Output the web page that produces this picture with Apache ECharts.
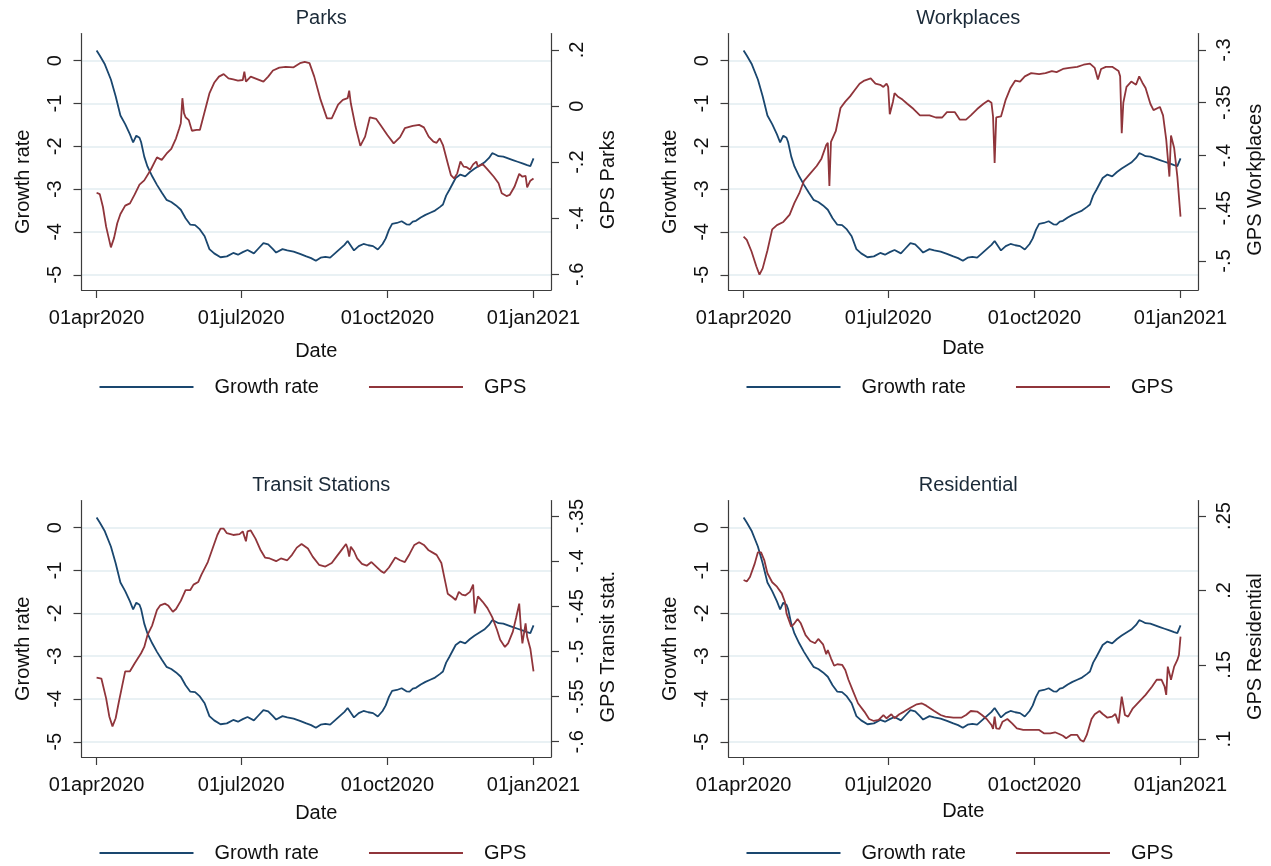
<!DOCTYPE html>
<html lang="en">
<head>
<meta charset="UTF-8">
<title>Growth rate and GPS mobility</title>
<script src="https://cdn.jsdelivr.net/npm/echarts@6/dist/echarts.min.js"></script>
<style>
  html, body { margin: 0; padding: 0; background: #fff; }
  #main { width: 1271px; height: 866px; }
</style>
</head>
<body>
<div id="main"></div>
<script>
// x values are days since 01apr2020
var tickDays = [0, 91, 183, 275];
var tickLabels = ['01apr2020', '01jul2020', '01oct2020', '01jan2021'];
var growthTicks = [-5, -4, -3, -2, -1, 0];

// growth rate (same line in every panel)
var growth = [
  [0, 0.24], [2, 0.12], [5, -0.07], [9, -0.44], [12, -0.83], [15, -1.28], [18, -1.48], [21, -1.72],
  [23, -1.91], [25, -1.75], [27, -1.80], [28, -1.90], [30, -2.24], [32, -2.47], [35, -2.70], [38, -2.90],
  [41, -3.08], [44, -3.25], [47, -3.30], [50, -3.38], [53, -3.48], [56, -3.68], [59, -3.83], [62, -3.84],
  [65, -3.94], [68, -4.10], [71, -4.40], [74, -4.50], [78, -4.59], [82, -4.57], [86, -4.49], [89, -4.53],
  [92, -4.47], [95, -4.42], [99, -4.50], [102, -4.38], [105, -4.26], [108, -4.29], [111, -4.40], [113, -4.48],
  [117, -4.40], [120, -4.43], [124, -4.46], [128, -4.51], [132, -4.57], [135, -4.61], [138, -4.67], [141, -4.60],
  [144, -4.58], [147, -4.60], [150, -4.50], [153, -4.40], [156, -4.30], [158, -4.21], [160, -4.32], [162, -4.43],
  [165, -4.33], [168, -4.28], [171, -4.31], [174, -4.33], [177, -4.41], [180, -4.28], [182, -4.15], [184, -3.95],
  [186, -3.81], [189, -3.79], [192, -3.75], [195, -3.82], [197, -3.83], [199, -3.76], [201, -3.74], [204, -3.66],
  [207, -3.60], [210, -3.55], [213, -3.50], [216, -3.42], [218, -3.36], [220, -3.15], [222, -3.02], [224, -2.88],
  [226, -2.74], [229, -2.66], [232, -2.70], [235, -2.60], [238, -2.52], [241, -2.45], [244, -2.38], [247, -2.27],
  [249, -2.16], [251, -2.19], [253, -2.23], [256, -2.24], [259, -2.28], [262, -2.32], [265, -2.36], [268, -2.40],
  [271, -2.44], [273, -2.46], [275, -2.28]
];

var parksGps = [
  [0, -0.309], [2, -0.314], [4, -0.36], [6, -0.43], [9, -0.504], [11, -0.47], [13, -0.418], [15, -0.385],
  [18, -0.355], [21, -0.347], [24, -0.315], [27, -0.28], [30, -0.265], [34, -0.228], [38, -0.183], [41, -0.192],
  [44, -0.170], [47, -0.153], [50, -0.115], [52, -0.08], [53, -0.061], [54, 0.028], [55, -0.025], [56, -0.040],
  [58, -0.050], [60, -0.088], [63, -0.085], [65, -0.085], [68, -0.020], [71, 0.045], [74, 0.083], [77, 0.105],
  [80, 0.114], [83, 0.099], [86, 0.095], [89, 0.091], [92, 0.093], [93, 0.123], [94, 0.087], [97, 0.105],
  [101, 0.096], [105, 0.087], [108, 0.105], [111, 0.127], [115, 0.137], [119, 0.140], [124, 0.138], [128, 0.153],
  [131, 0.158], [134, 0.153], [137, 0.105], [141, 0.022], [145, -0.044], [148, -0.044], [152, 0.005], [155, 0.022],
  [158, 0.028], [159, 0.055], [160, 0.010], [163, -0.074], [166, -0.142], [169, -0.109], [172, -0.040], [176, -0.046],
  [179, -0.070], [183, -0.103], [187, -0.133], [191, -0.111], [194, -0.079], [199, -0.071], [203, -0.067], [206, -0.076],
  [209, -0.109], [212, -0.127], [214, -0.131], [216, -0.115], [218, -0.139], [221, -0.204], [223, -0.246], [225, -0.258],
  [227, -0.240], [229, -0.198], [231, -0.216], [233, -0.218], [235, -0.226], [237, -0.208], [239, -0.198], [240, -0.216],
  [243, -0.207], [246, -0.226], [250, -0.252], [253, -0.275], [255, -0.311], [258, -0.321], [260, -0.317], [263, -0.288],
  [266, -0.242], [268, -0.252], [270, -0.249], [271, -0.290], [273, -0.266], [275, -0.258]
];

var workGps = [
  [0, -0.477], [2, -0.480], [5, -0.491], [8, -0.505], [10, -0.513], [12, -0.507], [15, -0.490], [18, -0.470],
  [21, -0.466], [25, -0.463], [29, -0.456], [32, -0.445], [35, -0.436], [38, -0.424], [42, -0.417], [46, -0.410],
  [49, -0.403], [52, -0.390], [53, -0.388], [54, -0.429], [55, -0.387], [58, -0.377], [61, -0.355], [64, -0.349],
  [67, -0.344], [70, -0.338], [73, -0.332], [76, -0.329], [80, -0.327], [83, -0.332], [86, -0.333], [88, -0.335],
  [90, -0.332], [91, -0.335], [92, -0.361], [94, -0.349], [95, -0.341], [97, -0.344], [100, -0.347], [103, -0.351],
  [107, -0.356], [111, -0.362], [117, -0.362], [121, -0.364], [125, -0.364], [128, -0.359], [133, -0.359], [136, -0.366],
  [140, -0.366], [143, -0.362], [147, -0.356], [151, -0.351], [154, -0.348], [156, -0.350], [157, -0.363], [158, -0.407],
  [159, -0.364], [162, -0.363], [165, -0.347], [168, -0.336], [171, -0.329], [174, -0.330], [177, -0.325], [181, -0.322],
  [186, -0.323], [190, -0.322], [194, -0.320], [197, -0.321], [201, -0.318], [205, -0.317], [210, -0.316], [214, -0.314],
  [218, -0.313], [221, -0.317], [223, -0.328], [225, -0.318], [228, -0.316], [232, -0.316], [236, -0.320], [237, -0.325],
  [238, -0.379], [239, -0.350], [241, -0.335], [244, -0.330], [247, -0.333], [249, -0.325], [251, -0.331], [253, -0.336],
  [256, -0.351], [258, -0.357], [262, -0.354], [264, -0.362], [266, -0.385], [268, -0.420], [269, -0.381], [271, -0.393],
  [273, -0.420], [275, -0.458]
];

var transitGps = [
  [0, -0.529], [3, -0.530], [6, -0.552], [8, -0.572], [10, -0.583], [12, -0.574], [14, -0.556], [16, -0.539],
  [18, -0.522], [21, -0.522], [24, -0.513], [28, -0.502], [30, -0.495], [32, -0.482], [35, -0.471], [38, -0.454],
  [40, -0.449], [43, -0.447], [45, -0.449], [48, -0.456], [50, -0.453], [53, -0.444], [56, -0.432], [59, -0.432],
  [61, -0.426], [64, -0.423], [66, -0.415], [70, -0.401], [73, -0.386], [76, -0.371], [78, -0.364], [80, -0.364],
  [82, -0.369], [86, -0.371], [90, -0.370], [92, -0.367], [94, -0.378], [95, -0.367], [97, -0.366], [100, -0.375],
  [103, -0.387], [106, -0.396], [109, -0.397], [113, -0.400], [116, -0.397], [120, -0.399], [123, -0.393], [126, -0.385],
  [129, -0.381], [133, -0.386], [136, -0.395], [140, -0.404], [144, -0.406], [148, -0.402], [151, -0.395], [154, -0.388],
  [157, -0.381], [158, -0.386], [159, -0.395], [160, -0.384], [162, -0.389], [164, -0.397], [167, -0.403], [170, -0.405],
  [173, -0.401], [176, -0.406], [179, -0.411], [181, -0.413], [184, -0.407], [188, -0.396], [191, -0.399], [194, -0.401],
  [197, -0.392], [200, -0.382], [203, -0.379], [206, -0.382], [209, -0.388], [211, -0.390], [214, -0.393], [217, -0.402],
  [219, -0.419], [221, -0.436], [224, -0.440], [226, -0.443], [228, -0.434], [230, -0.437], [232, -0.438], [235, -0.434],
  [237, -0.426], [238, -0.458], [240, -0.439], [243, -0.445], [246, -0.452], [249, -0.462], [252, -0.476], [254, -0.487],
  [257, -0.495], [259, -0.491], [262, -0.478], [264, -0.463], [266, -0.447], [267, -0.473], [268, -0.491], [270, -0.469],
  [271, -0.484], [273, -0.497], [275, -0.522]
];

var residGps = [
  [0, 0.207], [2, 0.206], [4, 0.209], [7, 0.218], [9, 0.2256], [11, 0.2256], [13, 0.2204], [15, 0.2115],
  [18, 0.2055], [21, 0.2025], [24, 0.198], [26, 0.1924], [27, 0.1846], [30, 0.1756], [32, 0.1779], [34, 0.1808],
  [36, 0.1779], [39, 0.170], [42, 0.166], [45, 0.1645], [47, 0.1674], [50, 0.1638], [52, 0.1571], [53, 0.160],
  [55, 0.1544], [57, 0.1494], [59, 0.1504], [62, 0.150], [64, 0.1466], [66, 0.140], [69, 0.132], [72, 0.1242],
  [76, 0.1186], [79, 0.1136], [82, 0.1123], [85, 0.113], [88, 0.1163], [90, 0.1141], [93, 0.1168], [95, 0.1141],
  [98, 0.1168], [101, 0.1186], [105, 0.1212], [109, 0.1235], [112, 0.1242], [115, 0.1226], [120, 0.119], [124, 0.1163],
  [127, 0.1152], [132, 0.1145], [137, 0.1145], [140, 0.1163], [143, 0.119], [147, 0.1186], [150, 0.1163], [153, 0.1136],
  [156, 0.1096], [157, 0.107], [158, 0.1152], [159, 0.1074], [161, 0.107], [163, 0.1118], [166, 0.1136], [169, 0.1107],
  [172, 0.1074], [176, 0.1063], [181, 0.1063], [186, 0.1063], [189, 0.104], [193, 0.104], [196, 0.1047], [199, 0.1034],
  [201, 0.1024], [203, 0.1007], [206, 0.1029], [210, 0.1029], [212, 0.0995], [214, 0.0984], [216, 0.1029], [219, 0.1136],
  [221, 0.1168], [224, 0.119], [226, 0.117], [229, 0.1145], [232, 0.1152], [234, 0.117], [236, 0.1107], [238, 0.1286],
  [240, 0.1163], [242, 0.1152], [245, 0.1208], [249, 0.1253], [253, 0.1298], [257, 0.1353], [260, 0.140], [263, 0.140],
  [265, 0.1353], [266, 0.1298], [267, 0.1488], [269, 0.140], [271, 0.1488], [273, 0.1533], [274, 0.1566], [275, 0.169]
];

var parksTicks = [-0.6, -0.4, -0.2, 0, 0.2];
var workTicks = [-0.5, -0.45, -0.4, -0.35, -0.3];
var transitTicks = [-0.6, -0.55, -0.5, -0.45, -0.4, -0.35];
var residTicks = [0.1, 0.15, 0.2, 0.25];

// layout of the four panels
var panels = [
  { title: 'Parks', yName: 'GPS Parks', gps: parksGps, ticks: parksTicks, min: -0.656, max: 0.2588,
    left: 81.5, top: 33.5, dateGap: 51, legendTop: 372 },
  { title: 'Workplaces', yName: 'GPS Workplaces', gps: workGps, ticks: workTicks, min: -0.5275, max: -0.2844,
    left: 728.5, top: 33.5, dateGap: 48, legendTop: 372 },
  { title: 'Transit Stations', yName: 'GPS Transit stat.', gps: transitGps, ticks: transitTicks, min: -0.6169, max: -0.3328,
    left: 81.5, top: 500.5, dateGap: 46, legendTop: 838 },
  { title: 'Residential', yName: 'GPS Residential', gps: residGps, ticks: residTicks, min: 0.0881, max: 0.2604,
    left: 728.5, top: 500.5, dateGap: 44, legendTop: 838 }
];
var W = 469.5, H = 256.5;

var FONT = '"Liberation Sans", Arial, sans-serif';
var navy = '#1a476f', maroon = '#90353b';
var axisCol = '#3c3c3c', txt = '#111';

function stataNum(v) {
  var s = String(parseFloat(Number(v).toFixed(3)));
  return s.replace(/^(-?)0\./, '$1.');
}
function dateLabel(v) {
  var i = tickDays.indexOf(Math.round(v));
  return i >= 0 ? tickLabels[i] : '';
}

var grid = [], xAxis = [], yAxis = [], series = [], title = [], legend = [];

panels.forEach(function (p, i) {
  grid.push({ left: p.left, top: p.top, width: W, height: H, containLabel: false });

  title.push({
    text: p.title, left: p.left + W / 2, top: p.top - 30, textAlign: 'center',
    textStyle: { fontFamily: FONT, fontSize: 20, fontWeight: 'normal', color: '#1b2a38' }
  });

  xAxis.push({
    type: 'value', gridIndex: i, min: -9.5, max: 286,
    name: 'Date', nameLocation: 'middle', nameGap: p.dateGap,
    nameTextStyle: { fontFamily: FONT, fontSize: 20, color: txt },
    axisLine: { show: true, onZero: false, lineStyle: { color: axisCol, width: 1.2 } },
    axisTick: { show: true, length: 8, customValues: tickDays, lineStyle: { color: axisCol, width: 1.2 } },
    axisLabel: { customValues: tickDays, formatter: dateLabel, margin: 18,
      fontFamily: FONT, fontSize: 20, color: txt },
    splitLine: { show: false }
  });

  yAxis.push({
    type: 'value', gridIndex: i, position: 'left', min: -5.355, max: 0.635,
    name: 'Growth rate', nameLocation: 'middle', nameGap: 48, nameRotate: 90,
    nameTextStyle: { fontFamily: FONT, fontSize: 20, color: txt, padding: [0, 40, 0, 0] },
    axisLine: { show: true, onZero: false, lineStyle: { color: axisCol, width: 1.2 } },
    axisTick: { show: true, length: 8, customValues: growthTicks, lineStyle: { color: axisCol, width: 1.2 } },
    axisLabel: { customValues: growthTicks, rotate: 90, margin: 16,
      fontFamily: FONT, fontSize: 20, color: txt },
    splitLine: { show: true, lineStyle: { color: '#e2edf0', width: 1.5 } }
  });

  yAxis.push({
    type: 'value', gridIndex: i, position: 'right', min: p.min, max: p.max,
    name: p.yName, nameLocation: 'middle', nameGap: 47, nameRotate: 90,
    nameTextStyle: { fontFamily: FONT, fontSize: 20, color: txt, padding: [0, 36, 0, 0] },
    axisLine: { show: true, onZero: false, lineStyle: { color: axisCol, width: 1.2 } },
    axisTick: { show: true, length: 8, customValues: p.ticks, lineStyle: { color: axisCol, width: 1.2 } },
    axisLabel: { customValues: p.ticks, rotate: 90, margin: 16, formatter: stataNum,
      fontFamily: FONT, fontSize: 20, color: txt },
    splitLine: { show: false }
  });

  series.push({
    name: 'Growth rate', type: 'line', xAxisIndex: i, yAxisIndex: 2 * i,
    data: growth, showSymbol: false, symbol: 'none',
    lineStyle: { color: navy, width: 1.8 }, itemStyle: { color: navy }
  });
  series.push({
    name: 'GPS', type: 'line', xAxisIndex: i, yAxisIndex: 2 * i + 1,
    data: p.gps, showSymbol: false, symbol: 'none',
    lineStyle: { color: maroon, width: 1.8 }, itemStyle: { color: maroon }
  });

  legend.push({
    data: ['Growth rate', 'GPS'], left: p.left + 13, top: p.legendTop,
    icon: 'rect', itemWidth: 94, itemHeight: 2, itemGap: 50,
    textStyle: { fontFamily: FONT, fontSize: 20, color: txt, padding: [0, 0, 0, 16] }
  });
});

var chart = echarts.init(document.getElementById('main'));
chart.setOption({
  animation: false,
  backgroundColor: '#fff',
  title: title,
  legend: legend,
  grid: grid,
  xAxis: xAxis,
  yAxis: yAxis,
  series: series
});
</script>
</body>
</html>
